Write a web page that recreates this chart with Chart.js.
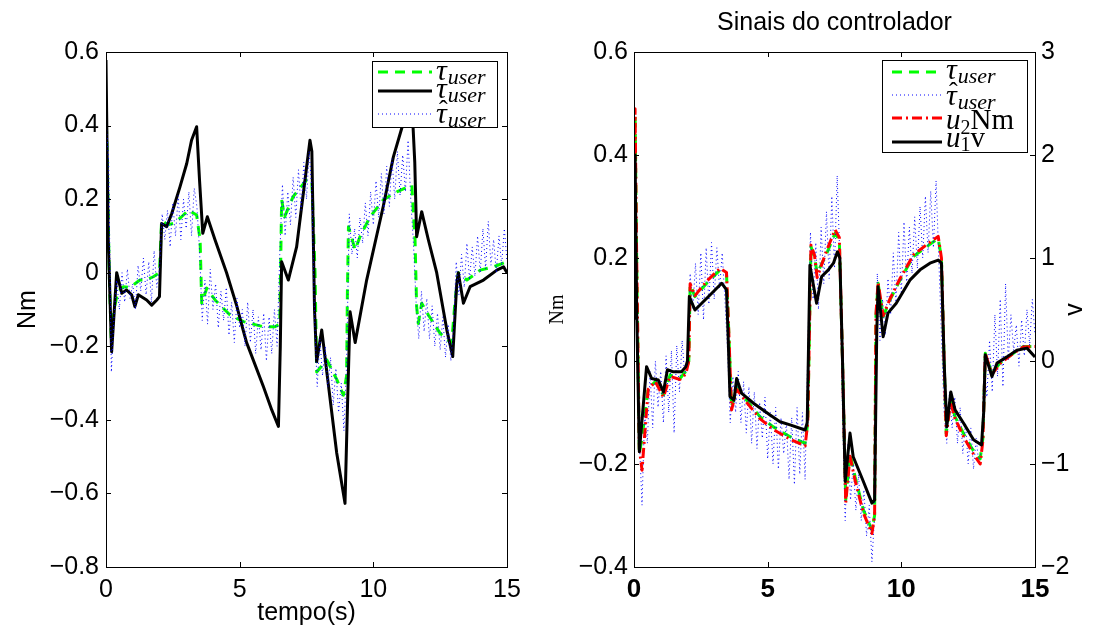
<!DOCTYPE html>
<html><head><meta charset="utf-8">
<script src="https://cdn.jsdelivr.net/npm/chart.js@4.4.1/dist/chart.umd.min.js"></script>
<style>
html,body{margin:0;padding:0;background:#fff;overflow:hidden;}
#wrap{position:relative;width:1093px;height:635px;}
.box{position:absolute;top:0;height:635px;}
</style></head><body>
<div id="wrap">
<div class="box" style="left:0;width:546px"><canvas id="c1"></canvas></div>
<div class="box" style="left:546px;width:547px"><canvas id="c2"></canvas></div>
</div>
<script>
// ---------- DATA ----------
// Left panel: tau_user (green dashed)
const leftGreenT = [0,0.05,0.12,0.2,0.3,0.45,0.65,0.9,1.27,1.5,1.77,2.0,2.08,2.3,2.52,2.8,3.08,3.39,3.52,3.58,3.77,4.08,4.64,5.14,5.89,6.32,6.5,6.57,6.68,7.0,7.5,7.7,7.82,7.88,8.26,8.63,8.88,9.0,9.03,9.07,9.32,9.5,9.88,10.37,10.88,11.44,11.5,11.56,11.62,11.68,11.81,12.06,12.5,12.93,13.06,13.18,13.5,14.0,14.5,15];
const leftGreenV = [0.45,0.3,0,-0.19,-0.1,-0.05,-0.038,-0.04,-0.02,-0.02,-0.011,0,0.143,0.13,0.134,0.15,0.17,0.157,0.089,-0.083,-0.042,-0.074,-0.115,-0.133,-0.147,-0.147,-0.14,0.198,0.152,0.207,0.252,0.25,0,-0.27,-0.237,-0.29,-0.333,-0.28,-0.056,0.125,0.062,0.098,0.152,0.198,0.22,0.238,0.161,0.089,-0.092,-0.138,-0.083,-0.115,-0.165,-0.192,-0.074,0,-0.02,0.007,0.016,0.03];
// Left panel: tau_user (black solid)
const leftBlackT = [0,0.08,0.21,0.4,0.59,0.77,0.96,1.08,1.21,1.52,1.71,1.9,2.0,2.08,2.27,2.46,2.77,3.02,3.2,3.39,3.5,3.62,3.79,4.08,4.51,4.89,5.13,5.26,5.89,6.2,6.45,6.52,6.57,6.82,7.13,7.63,7.7,7.8,7.88,8.07,8.26,8.63,8.94,9.02,9.13,9.32,9.75,10.37,10.75,11.06,11.3,11.45,11.55,11.62,11.81,12.06,12.37,12.75,12.97,13.12,13.18,13.37,13.62,14.12,14.62,14.87,15];
const leftBlackV = [0.578,0.1,-0.215,0,-0.056,-0.047,-0.06,-0.092,-0.06,-0.074,-0.088,-0.074,-0.065,0.134,0.125,0.161,0.234,0.297,0.36,0.397,0.25,0.107,0.152,0.089,0,-0.09,-0.156,-0.19,-0.31,-0.373,-0.418,-0.2,0.03,-0.02,0.07,0.36,0.33,-0.1,-0.242,-0.156,-0.27,-0.49,-0.627,-0.4,-0.106,-0.19,-0.02,0.18,0.315,0.392,0.44,0.45,0.3,0.098,0.166,0.089,0,-0.156,-0.228,-0.03,0,-0.083,-0.038,-0.02,0.007,0.016,0];
// Sample times of the estimated torque (both panels)
const blueT = [0,0.1,0.2,0.3,0.4,0.5,0.6,0.7,0.8,0.9,
1.0,1.1,1.2,1.3,1.4,1.5,1.6,1.7,1.8,1.9,
2.0,2.1,2.2,2.3,2.4,2.5,2.6,2.7,2.8,2.9,
3.0,3.1,3.2,3.3,3.4,3.5,3.6,3.7,3.8,3.9,
4.0,4.1,4.2,4.3,4.4,4.5,4.6,4.7,4.8,4.9,
5.0,5.1,5.2,5.3,5.4,5.5,5.6,5.7,5.8,5.9,
6.0,6.1,6.2,6.3,6.4,6.5,6.6,6.7,6.8,6.9,
7.0,7.1,7.2,7.3,7.4,7.5,7.6,7.7,7.8,7.9,
8.0,8.1,8.2,8.3,8.4,8.5,8.6,8.7,8.8,8.9,
9.0,9.1,9.2,9.3,9.4,9.5,9.6,9.7,9.8,9.9,
10.0,10.1,10.2,10.3,10.4,10.5,10.6,10.7,10.8,10.9,
11.0,11.1,11.2,11.3,11.4,11.5,11.6,11.7,11.8,11.9,
12.0,12.1,12.2,12.3,12.4,12.5,12.6,12.7,12.8,12.9,
13.0,13.1,13.2,13.3,13.4,13.5,13.6,13.7,13.8,13.9,
14.0,14.1,14.2,14.3,14.4,14.5,14.6,14.7,14.8,14.9,
15.0];
// Left panel: estimated tau_user (blue dotted)
const leftBlueV = [0.42,0.30,-0.27,-0.12,-0.02,-0.10,0.00,-0.08,0.01,-0.07,
-0.03,-0.10,0.02,-0.05,0.04,-0.06,0.03,-0.08,0.06,-0.04,
0.01,0.16,0.09,0.17,0.07,0.19,0.10,0.21,0.09,0.20,
0.12,0.22,0.10,0.23,0.18,0.06,-0.13,-0.02,-0.14,0.01,
-0.10,-0.03,-0.15,-0.05,-0.13,-0.04,-0.17,-0.08,-0.19,-0.07,
-0.15,-0.10,-0.20,-0.08,-0.19,-0.10,-0.22,-0.12,-0.21,-0.11,
-0.24,-0.12,-0.22,-0.10,-0.20,0.05,0.24,0.10,0.22,0.13,
0.26,0.15,0.28,0.17,0.30,0.20,0.33,0.22,-0.12,-0.31,
-0.18,-0.28,-0.20,-0.31,-0.23,-0.36,-0.26,-0.38,-0.30,-0.43,
-0.25,0.16,0.05,0.12,0.04,0.15,0.08,0.19,0.10,0.22,
0.13,0.25,0.15,0.27,0.16,0.29,0.18,0.31,0.20,0.33,
0.21,0.32,0.22,0.36,0.20,0.08,-0.08,-0.18,-0.05,-0.16,
-0.07,-0.18,-0.09,-0.20,-0.11,-0.21,-0.12,-0.23,-0.14,-0.24,
-0.15,0.03,-0.06,0.05,-0.04,0.08,-0.02,0.07,-0.01,0.10,
0.00,0.12,0.01,0.14,0.02,0.09,0.00,0.10,0.02,0.12,
0.03];
// Right panel: tau_user (green dashed), u2 (red dash-dot) in Nm
const rightGreenT = [0,0.04,0.1,0.2,0.3,0.53,0.8,1.1,1.35,1.72,1.94,2.05,2.1,2.28,2.72,3.22,3.46,3.55,3.65,3.84,4.21,4.71,5.21,5.84,6.4,6.5,6.62,6.75,6.85,7.21,7.52,7.68,7.8,7.92,8.08,8.27,8.58,8.9,9.0,9.05,9.13,9.32,9.57,9.95,10.45,10.95,11.38,11.5,11.6,11.68,11.84,12.01,12.33,12.64,12.95,13.05,13.14,13.39,13.69,14.19,14.56,15];
const rightGreenV = [0.09,0.48,0.2,-0.18,-0.15,-0.053,-0.04,-0.066,-0.027,-0.034,-0.02,0,0.148,0.125,0.151,0.177,0.17,0.05,-0.089,-0.05,-0.076,-0.108,-0.128,-0.147,-0.16,-0.12,0.222,0.203,0.17,0.209,0.248,0.235,0,-0.27,-0.179,-0.225,-0.289,-0.328,-0.30,0.086,0.151,0.086,0.118,0.157,0.203,0.222,0.238,0.2,0,-0.141,-0.076,-0.108,-0.141,-0.17,-0.19,-0.15,0.015,-0.024,-0.004,0.015,0.028,0.028];
const rightRedV = [0.09,0.49,0.2,-0.17,-0.212,-0.055,-0.04,-0.07,-0.03,-0.036,-0.025,0,0.15,0.127,0.155,0.18,0.172,0.05,-0.095,-0.055,-0.08,-0.112,-0.133,-0.152,-0.165,-0.12,0.225,0.206,0.162,0.215,0.255,0.24,0,-0.275,-0.185,-0.232,-0.295,-0.335,-0.30,0.09,0.153,0.088,0.12,0.16,0.206,0.226,0.242,0.2,0,-0.145,-0.08,-0.112,-0.147,-0.176,-0.2,-0.155,0.015,-0.026,-0.005,0.015,0.027,0.028];
// Right panel: estimated tau_user (blue dotted) in Nm
const rightBlueV = [0.45,0.20,-0.15,-0.28,-0.10,-0.16,-0.02,-0.13,0.00,-0.09,
-0.02,-0.12,0.01,-0.10,0.02,-0.14,0.03,-0.06,0.04,-0.03,
0.00,0.17,0.10,0.19,0.09,0.21,0.08,0.22,0.11,0.23,
0.12,0.22,0.14,0.21,0.12,0.02,-0.12,-0.03,-0.10,-0.02,
-0.12,-0.04,-0.14,-0.05,-0.16,-0.06,-0.17,-0.08,-0.15,-0.07,
-0.19,-0.10,-0.20,-0.09,-0.21,-0.11,-0.18,-0.12,-0.23,-0.11,
-0.24,-0.09,-0.22,-0.10,-0.23,0.02,0.25,0.12,0.23,0.10,
0.26,0.15,0.29,0.16,0.32,0.18,0.36,0.20,-0.10,-0.31,
-0.16,-0.27,-0.20,-0.29,-0.22,-0.31,-0.25,-0.34,-0.28,-0.39,
-0.30,0.17,0.04,0.12,0.05,0.16,0.09,0.21,0.11,0.25,
0.13,0.27,0.15,0.26,0.17,0.28,0.18,0.30,0.20,0.32,
0.21,0.33,0.22,0.35,0.20,0.05,-0.10,-0.16,-0.06,-0.13,
-0.07,-0.16,-0.09,-0.18,-0.12,-0.20,-0.13,-0.21,-0.15,-0.20,
-0.17,0.00,-0.07,0.04,-0.06,0.09,-0.03,0.12,-0.05,0.15,
0.00,0.09,0.02,0.07,-0.01,0.08,0.01,0.10,0.03,0.12,
0.05];
// Right panel: u1 (black solid) in volts, right axis
const rightBlackT = [0,0.04,0.1,0.2,0.47,0.66,0.91,1.1,1.25,1.47,1.78,1.94,2.0,2.07,2.28,2.59,2.9,3.28,3.46,3.52,3.59,3.74,3.84,4.03,4.47,5.09,5.46,5.84,6.4,6.48,6.58,6.83,7.02,7.27,7.46,7.61,7.7,7.8,7.9,8.08,8.2,8.58,8.9,9.0,9.08,9.13,9.32,9.5,9.81,10.32,10.7,11.07,11.38,11.5,11.6,11.7,11.85,12.01,12.33,12.7,13.0,13.08,13.14,13.39,13.58,13.95,14.32,14.7,15];
const rightBlackV = [0.4,2.0,0.5,-0.88,-0.055,-0.17,-0.185,-0.3,-0.085,-0.105,-0.105,-0.055,0,0.625,0.495,0.575,0.655,0.755,0.69,0.25,-0.345,-0.38,-0.17,-0.315,-0.41,-0.525,-0.59,-0.62,-0.67,-0.6,0.93,0.56,0.82,0.885,0.95,1.06,1.0,0,-1.17,-0.7,-0.93,-1.17,-1.38,-1.35,0.27,0.72,0.235,0.465,0.56,0.785,0.885,0.95,0.98,0.95,0,-0.64,-0.3,-0.475,-0.605,-0.765,-0.815,-0.5,0.06,-0.15,-0.02,0.04,0.105,0.125,0.04];

const xTicks = [0,5,10,15];
const leftYTicks = [-0.8,-0.6,-0.4,-0.2,0,0.2,0.4,0.6];
const rightYTicks = [-0.4,-0.2,0,0.2,0.4,0.6];
const rightY2Ticks = [-2,-1,0,1,2,3];
const titleText = 'Sinais do controlador';

// ---------- HELPERS ----------
const SANS = '"Liberation Sans", Arial, Helvetica, sans-serif';
const SERIF = '"Liberation Serif", "Times New Roman", serif';
const xy = (t, v) => t.map((x, i) => ({x: x, y: v[i]}));
const fmt = v => { const r = Math.round(v * 10) / 10; return r < 0 ? '\u2212' + String(Math.abs(r)) : String(r); };
const C_GREEN = '#00ff00', C_BLUE = '#0000ff', C_RED = '#ff0000', C_BLACK = '#000000';
const D_GREEN = [10, 7], D_BLUE = [1, 3], D_RED = [10, 4, 2, 4];

function lineDs(label, data, color, width, dash, order, axis) {
  const d = {label, data, borderColor: color, borderWidth: width, borderDash: dash,
    pointRadius: 0, tension: 0, fill: false, order, borderJoinStyle: 'round', borderCapStyle: 'butt'};
  if (axis) d.yAxisID = axis;
  return d;
}

function mathText(ctx, x, y, parts) {
  let cx = x;
  ctx.textBaseline = 'alphabetic'; ctx.textAlign = 'left'; ctx.fillStyle = '#000';
  for (const p of parts) {
    ctx.font = p.font;
    if (p.hat) {
      const w = ctx.measureText(p.t).width;
      ctx.save(); ctx.font = p.hatFont; ctx.textAlign = 'center';
      ctx.fillText('\u02C6', cx + w / 2 + 2, y + p.hatDy); ctx.restore();
    }
    ctx.fillText(p.t, cx, y + (p.dy || 0));
    cx += ctx.measureText(p.t).width + (p.kern || 0);
  }
}
const MI = s => 'italic ' + s + 'px ' + SERIF;
const MR = s => s + 'px ' + SERIF;

function sampleLine(ctx, x1, x2, y, color, width, dash) {
  ctx.save(); ctx.strokeStyle = color; ctx.lineWidth = width; ctx.setLineDash(dash);
  ctx.beginPath(); ctx.moveTo(x1, y); ctx.lineTo(x2, y); ctx.stroke(); ctx.restore();
}

// Box + inward ticks (MATLAB style)
function boxPlugin(yLeftId, yRightId) {
  return {
    id: 'matlabBox',
    afterDatasetsDraw(chart) {
      const ctx = chart.ctx, a = chart.chartArea, L = 5;
      ctx.save(); ctx.strokeStyle = '#000'; ctx.lineWidth = 1; ctx.setLineDash([]);
      ctx.strokeRect(Math.round(a.left) + 0.5, Math.round(a.top) + 0.5, Math.round(a.right - a.left), Math.round(a.bottom - a.top));
      ctx.beginPath();
      const xs = chart.scales.x;
      xs.ticks.forEach(t => { const px = Math.round(xs.getPixelForValue(t.value)) + 0.5;
        ctx.moveTo(px, a.bottom); ctx.lineTo(px, a.bottom - L);
        ctx.moveTo(px, a.top); ctx.lineTo(px, a.top + L); });
      const yl = chart.scales[yLeftId];
      yl.ticks.forEach(t => { const py = Math.round(yl.getPixelForValue(t.value)) + 0.5;
        ctx.moveTo(a.left, py); ctx.lineTo(a.left + L, py);
        if (!yRightId) { ctx.moveTo(a.right, py); ctx.lineTo(a.right - L, py); } });
      if (yRightId) {
        const yr = chart.scales[yRightId];
        yr.ticks.forEach(t => { const py = Math.round(yr.getPixelForValue(t.value)) + 0.5;
          ctx.moveTo(a.right, py); ctx.lineTo(a.right - L, py); });
      }
      ctx.stroke(); ctx.restore();
    }
  };
}

function fixedTicks(list) {
  return function (scale) { scale.ticks = list.map(v => ({value: v})); };
}

// ---------- LEFT CHART ----------
const leftLegend = {
  id: 'leftLegend',
  afterDraw(chart) {
    const ctx = chart.ctx;
    ctx.save();
    ctx.fillStyle = '#fff'; ctx.fillRect(372, 61, 126, 67);
    ctx.strokeStyle = '#000'; ctx.lineWidth = 1; ctx.strokeRect(372.5, 61.5, 125, 66);
    sampleLine(ctx, 378, 432, 72, C_GREEN, 3, D_GREEN);
    sampleLine(ctx, 378, 432, 91, C_BLACK, 3, []);
    sampleLine(ctx, 378, 432, 114, C_BLUE, 1, D_BLUE);
    mathText(ctx, 436, 80, [{t: '\u03C4', font: MI(30), kern: 1}, {t: 'user', font: MI(22), dy: 4}]);
    mathText(ctx, 436, 98, [{t: '\u03C4', font: MI(30), kern: 1}, {t: 'user', font: MI(22), dy: 4}]);
    mathText(ctx, 436, 123, [{t: '\u03C4', font: MI(30), kern: 1, hat: true, hatFont: MR(26), hatDy: -5}, {t: 'user', font: MI(22), dy: 4}]);
    ctx.restore();
  }
};

new Chart(document.getElementById('c1'), {
  type: 'line',
  data: {
    datasets: [
      lineDs('\u03C4user', xy(leftGreenT, leftGreenV), C_GREEN, 3, D_GREEN, 3),
      lineDs('\u03C4user', xy(leftBlackT, leftBlackV), C_BLACK, 3, [], 2),
      lineDs('\u03C4\u0302user', xy(blueT, leftBlueV), C_BLUE, 1, D_BLUE, 1)
    ]
  },
  options: {
    responsive: true, maintainAspectRatio: false, animation: false,
    layout: {padding: {top: 52, right: 39, left: 0, bottom: 0}},
    plugins: {legend: {display: false}, tooltip: {enabled: false}, title: {display: false}},
    scales: {
      x: {type: 'linear', min: 0, max: 15,
        afterBuildTicks: fixedTicks(xTicks),
        ticks: {font: {family: SANS, size: 25}, color: '#000', padding: 8, maxRotation: 0, autoSkip: false},
        grid: {display: false, drawTicks: false}, border: {display: false},
        title: {display: true, text: 'tempo(s)', font: {family: SANS, size: 25}, color: '#000', padding: {top: 0, bottom: 7}},
        afterFit: s => { s.height = 68; }},
      y: {type: 'linear', min: -0.8, max: 0.6,
        afterBuildTicks: fixedTicks(leftYTicks),
        ticks: {font: {family: SANS, size: 25}, color: '#000', padding: 7, callback: fmt, autoSkip: false},
        grid: {display: false, drawTicks: false}, border: {display: false},
        title: {display: true, text: 'Nm', font: {family: SANS, size: 25}, color: '#000', padding: {top: 13, bottom: 0}},
        afterFit: s => { s.width = 106; }}
    }
  },
  plugins: [boxPlugin('y', null), leftLegend]
});

// ---------- RIGHT CHART ----------
const rightExtras = {
  id: 'rightExtras',
  afterDraw(chart) {
    const ctx = chart.ctx, a = chart.chartArea;
    ctx.save();
    // title
    ctx.fillStyle = '#000'; ctx.font = '25px ' + SANS; ctx.textAlign = 'center'; ctx.textBaseline = 'middle';
    ctx.fillText(titleText, (a.left + a.right) / 2, 23);
    // right axis label, rotated like MATLAB
    ctx.save(); ctx.translate(529, (a.top + a.bottom) / 2); ctx.rotate(-Math.PI / 2);
    ctx.fillText('v', 0, 0); ctx.restore();
    // legend
    const bx = 336;
    ctx.fillStyle = '#fff'; ctx.fillRect(bx, 60, 146, 93);
    ctx.strokeStyle = '#000'; ctx.lineWidth = 1; ctx.strokeRect(bx + 0.5, 60.5, 145, 92);
    sampleLine(ctx, 346, 396, 72, C_GREEN, 3, D_GREEN);
    sampleLine(ctx, 346, 396, 95, C_BLUE, 1, D_BLUE);
    sampleLine(ctx, 346, 396, 118, C_RED, 3, D_RED);
    sampleLine(ctx, 346, 396, 142, C_BLACK, 3, []);
    mathText(ctx, 400, 79, [{t: '\u03C4', font: MI(30), kern: 1}, {t: 'user', font: MI(22), dy: 4}]);
    mathText(ctx, 400, 105, [{t: '\u03C4', font: MI(30), kern: 1, hat: true, hatFont: MR(26), hatDy: -5}, {t: 'user', font: MI(22), dy: 4}]);
    mathText(ctx, 400, 129, [{t: 'u', font: MI(29)}, {t: '2', font: MR(20), dy: 5}, {t: 'Nm', font: MR(29)}]);
    mathText(ctx, 400, 147, [{t: 'u', font: MI(29)}, {t: '1', font: MR(20), dy: 4}, {t: 'v', font: MR(29)}]);
    ctx.restore();
  }
};

new Chart(document.getElementById('c2'), {
  type: 'line',
  data: {
    datasets: [
      lineDs('\u03C4user', xy(rightGreenT, rightGreenV), C_GREEN, 3, D_GREEN, 4, 'y'),
      lineDs('\u03C4\u0302user', xy(blueT, rightBlueV), C_BLUE, 1, D_BLUE, 3, 'y'),
      lineDs('u2 Nm', xy(rightGreenT, rightRedV), C_RED, 3, D_RED, 2, 'y'),
      lineDs('u1 v', xy(rightBlackT, rightBlackV), C_BLACK, 3, [], 1, 'y2')
    ]
  },
  options: {
    responsive: true, maintainAspectRatio: false, animation: false,
    layout: {padding: {top: 52, right: 0, left: 0, bottom: 0}},
    plugins: {legend: {display: false}, tooltip: {enabled: false}, title: {display: false}},
    scales: {
      x: {type: 'linear', min: 0, max: 15,
        afterBuildTicks: fixedTicks(xTicks),
        ticks: {font: {family: SANS, size: 26, weight: 'bold'}, color: '#000', padding: 7, maxRotation: 0, autoSkip: false},
        grid: {display: false, drawTicks: false}, border: {display: false},
        afterFit: s => { s.height = 68; }},
      y: {type: 'linear', position: 'left', min: -0.4, max: 0.6,
        afterBuildTicks: fixedTicks(rightYTicks),
        ticks: {font: {family: SANS, size: 25}, color: '#000', padding: 6, callback: fmt, autoSkip: false},
        grid: {display: false, drawTicks: false}, border: {display: false},
        title: {display: true, text: 'Nm', font: {family: SERIF, size: 20}, color: '#000', padding: {top: 0, bottom: 0}},
        afterFit: s => { s.width = 88; }},
      y2: {type: 'linear', position: 'right', min: -2, max: 3,
        afterBuildTicks: fixedTicks(rightY2Ticks),
        ticks: {font: {family: SANS, size: 25}, color: '#000', padding: 6, callback: v => v < 0 ? '\u2212' + Math.abs(v) : String(v), autoSkip: false},
        grid: {display: false, drawTicks: false}, border: {display: false},
        afterFit: s => { s.width = 58; }}
    }
  },
  plugins: [boxPlugin('y', 'y2'), rightExtras]
});
</script>
</body></html>
